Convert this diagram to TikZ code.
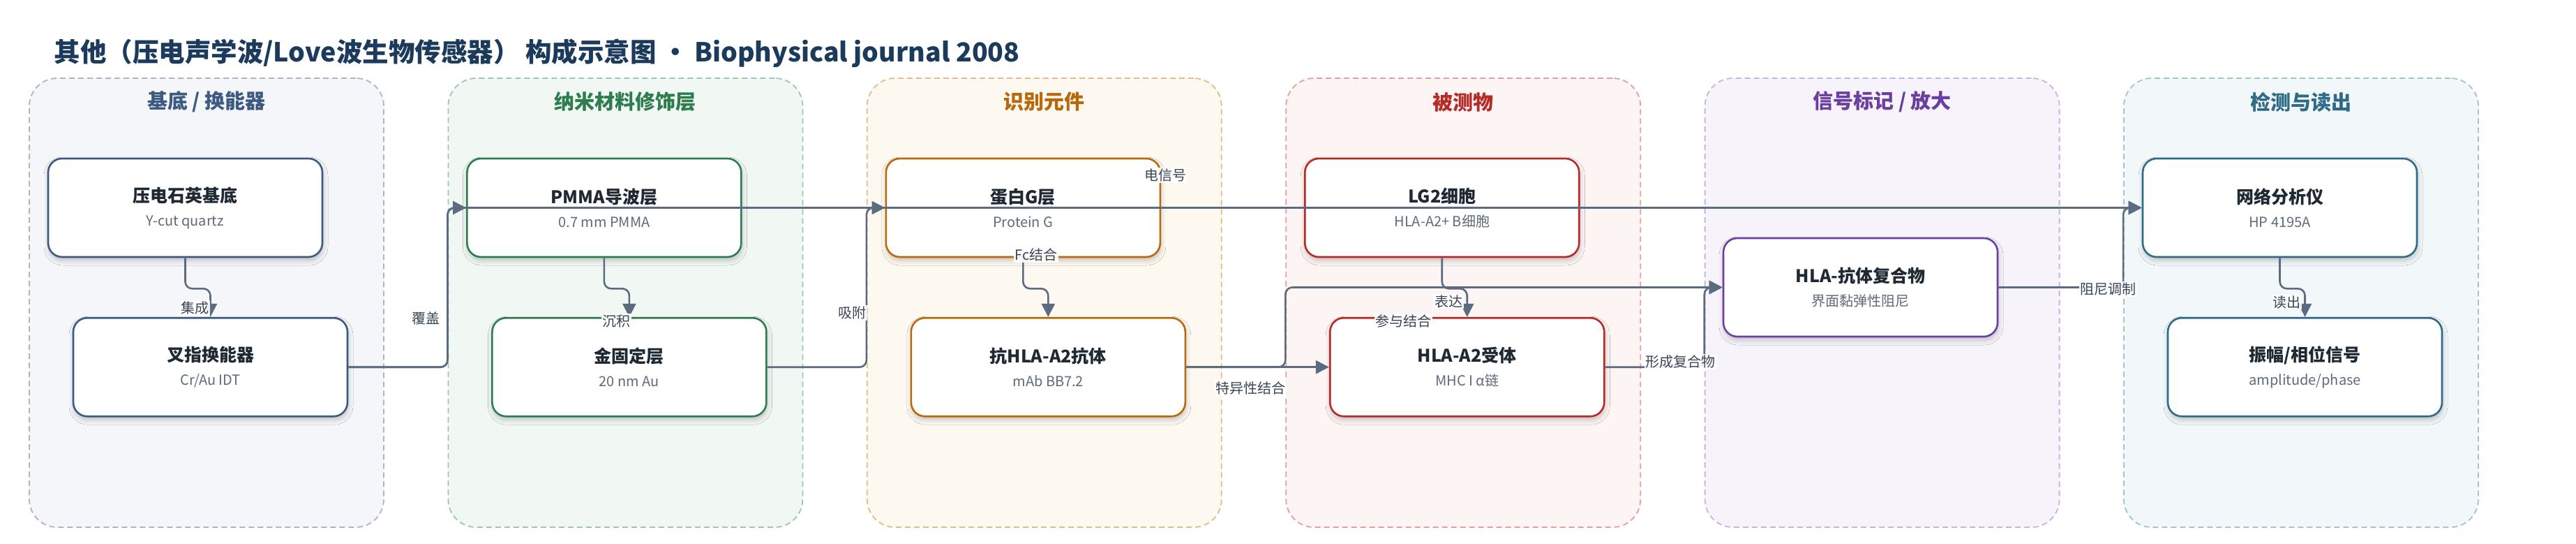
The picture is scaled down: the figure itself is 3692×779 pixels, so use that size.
\documentclass[tikz,border=0pt]{standalone}
\usepackage{fontspec}
\setmainfont{Noto Sans CJK SC}
\usetikzlibrary{arrows.meta,calc,shadows.blur}

\definecolor{headink}{HTML}{1B3A5C}
\definecolor{nodeink}{HTML}{1F2933}
\definecolor{subink}{HTML}{5F6B7A}
\definecolor{tagink}{HTML}{3A4555}
\definecolor{wire}{HTML}{5B6B80}
\definecolor{subst}{HTML}{3D5A80}
\definecolor{substfill}{HTML}{F5F6FA}
\definecolor{substline}{HTML}{A9B6C8}
\definecolor{nano}{HTML}{2E7D4F}
\definecolor{nanofill}{HTML}{F1F8F3}
\definecolor{nanoline}{HTML}{9CC9AA}
\definecolor{recog}{HTML}{B8690B}
\definecolor{recogfill}{HTML}{FDF8F0}
\definecolor{recogline}{HTML}{E3BD85}
\definecolor{analyte}{HTML}{B52B27}
\definecolor{analytefill}{HTML}{FDF4F4}
\definecolor{analyteline}{HTML}{E3A0A0}
\definecolor{signal}{HTML}{6B3FA0}
\definecolor{signalfill}{HTML}{F7F3FB}
\definecolor{signalline}{HTML}{C9B3E3}
\definecolor{readout}{HTML}{2F6B87}
\definecolor{readoutfill}{HTML}{F2F7F9}
\definecolor{readoutline}{HTML}{A3C3CF}

\newcommand{\subline}[1]{{\mdseries\fontsize{20}{24}\selectfont\color{subink}#1}}

\begin{document}
\begin{tikzpicture}[x=1pt,y=-1pt,>={Triangle[length=19pt,width=19pt]},
  panel/.style={draw=#1line,fill=#1fill,line width=1.8pt,dash pattern=on 8pt off 5pt,
    rounded corners=40pt,minimum width=508pt,minimum height=643pt},
  coltitle/.style={text=#1,font=\fontsize{29}{34}\selectfont\bfseries},
  unit/.style={draw=#1,fill=white,line width=2.6pt,rounded corners=20pt,
    minimum width=393pt,minimum height=141pt,align=center,text=nodeink,
    font=\fontsize{25}{34}\selectfont\bfseries,
    blur shadow={shadow xshift=1pt,shadow yshift=-5pt,shadow blur radius=7pt,shadow opacity=22}},
  link/.style={->,draw=wire,line width=2.6pt,rounded corners=10pt},
  tag/.style={fill=white,fill opacity=0.9,text opacity=1,text=tagink,
    font=\fontsize{20}{24}\selectfont,inner sep=1.5pt}]
  \useasboundingbox (0,0) rectangle (3692,779);
  \fill[white] (0,0) rectangle (3692,779);

  \node[anchor=west,text=headink,font=\fontsize{37.5}{44}\selectfont\bfseries] (head) at (74,76)
    {其他（压电声学波/Love波生物传感器） 构成示意图 • Biophysical journal 2008};

  % columns
  \node[panel=subst]   (substrate) at (296,433.5) {};
  \node[panel=nano]    (nanolayer) at (896.4,433.5) {};
  \node[panel=recog]   (recogcol)  at (1496.8,433.5) {};
  \node[panel=analyte] (analytecol) at (2097.2,433.5) {};
  \node[panel=signal]  (signalcol) at (2697.6,433.5) {};
  \node[panel=readout] (readoutcol) at (3298,433.5) {};
  \node[coltitle=subst]   (substrate-t)  at (296,146) {基底 / 换能器};
  \node[coltitle=nano]    (nanolayer-t)  at (896.4,146) {纳米材料修饰层};
  \node[coltitle=recog]   (recogcol-t)   at (1496.8,146) {识别元件};
  \node[coltitle=analyte] (analytecol-t) at (2097.2,146) {被测物};
  \node[coltitle=signal]  (signalcol-t)  at (2697.6,146) {信号标记 / 放大};
  \node[coltitle=readout] (readoutcol-t) at (3298,146) {检测与读出};

  % units
  \node[unit=subst] (quartz) at (265.5,297.5) {压电石英基底\\\subline{Y-cut quartz}};
  \node[unit=subst] (idt) at (301.5,525.7) {叉指换能器\\\subline{Cr/Au IDT}};
  \node[unit=nano] (pmma) at (865.9,297.5) {PMMA导波层\\\subline{0.7 mm PMMA}};
  \node[unit=nano] (gold) at (901.9,525.7) {金固定层\\\subline{20 nm Au}};
  \node[unit=recog] (protg) at (1466.3,297.5) {蛋白G层\\\subline{Protein G}};
  \node[unit=recog] (antibody) at (1502.3,525.7) {抗HLA-A2抗体\\\subline{mAb BB7.2}};
  \node[unit=analyte] (lgcell) at (2066.7,297.5) {LG2细胞\\\subline{HLA-A2+ B细胞}};
  \node[unit=analyte] (receptor) at (2102.7,525.7) {HLA-A2受体\\\subline{MHC I α链}};
  \node[unit=signal] (complex) at (2666.5,411.5) {HLA-抗体复合物\\\subline{界面黏弹性阻尼}};
  \node[unit=readout] (analyzer) at (3267.5,297.5) {网络分析仪\\\subline{HP 4195A}};
  \node[unit=readout] (ampphase) at (3303.5,525.7) {振幅/相位信号\\\subline{amplitude/phase}};

  % connectors
  \draw[link] (quartz.south) -- ++(0,44) -| (idt.north);
  \draw[link] (idt.east) -- (idt.east -| nanolayer.west) |- (pmma.west);
  \draw[link] (pmma.south) -- ++(0,44) -| (gold.north);
  \draw[link] (gold.east) -- (gold.east -| recogcol.west) |- (protg.west);
  \draw[link] (idt.east) -- (idt.east -| nanolayer.west) |- (analyzer.west);
  \draw[link] (protg.south) -- ++(0,44) -| (antibody.north);
  \draw[link] (antibody.east) -- (receptor.west);
  \draw[link] (lgcell.south) -- ++(0,44) -| (receptor.north);
  \draw[link] (antibody.east) -- (antibody.east -| analytecol.west) |- (complex.west);
  \draw[link] (receptor.east) -- (receptor.east -| signalcol.west) |- (complex.west);
  \draw[link] (complex.east) -- (complex.east -| readoutcol.west) |- (analyzer.west);
  \draw[link] (analyzer.south) -- ++(0,44) -| (ampphase.north);

  % connector labels
  \node[tag] (t-integrate) at (279,441) {集成};
  \node[tag] (t-cover) at (610,456) {覆盖};
  \node[tag] (t-deposit) at (883,460) {沉积};
  \node[tag] (t-adsorb) at (1221.7,448) {吸附};
  \node[tag] (t-electric) at (1670,251) {电信号};
  \node[tag] (t-fc) at (1485,365) {Fc结合};
  \node[tag] (t-specific) at (1792.3,556) {特异性结合};
  \node[tag] (t-join) at (2011.7,460) {参与结合};
  \node[tag] (t-express) at (2076.7,431.7) {表达};
  \node[tag] (t-form) at (2408,518) {形成复合物};
  \node[tag] (t-damp) at (3021,414) {阻尼调制};
  \node[tag] (t-read) at (3277.6,432.6) {读出};
\end{tikzpicture}
\end{document}
